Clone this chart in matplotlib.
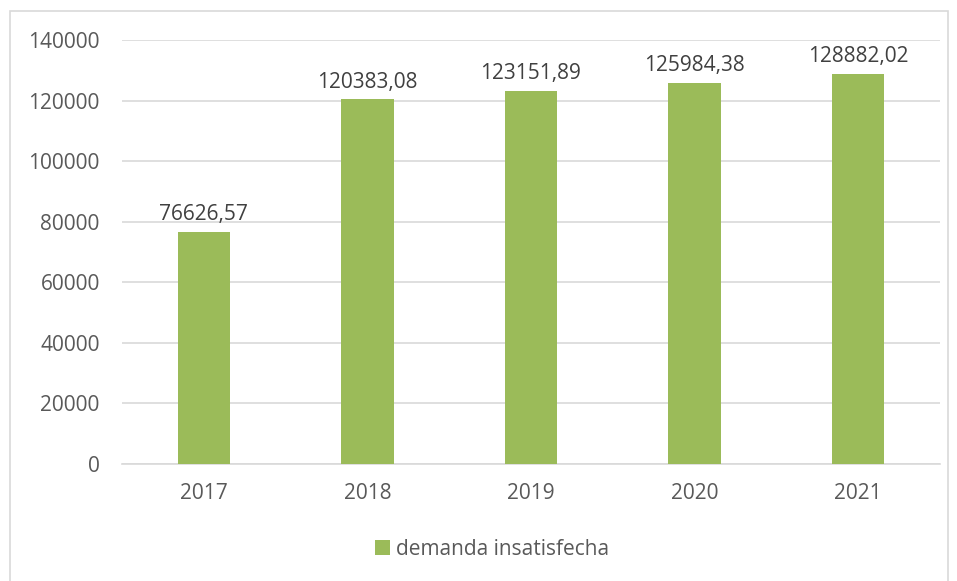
import matplotlib
matplotlib.use("Agg")
import matplotlib.pyplot as plt
from matplotlib.patches import Rectangle

years = ["2017", "2018", "2019", "2020", "2021"]
demanda = [76626.57, 120383.08, 123151.89, 125984.38, 128882.02]
labels = ["76626,57", "120383,08", "123151,89", "125984,38", "128882,02"]
yticks = [0, 20000, 40000, 60000, 80000, 100000, 120000, 140000]

plt.rcParams["font.family"] = ["Open Sans", "DejaVu Sans"]
text_color = "#595959"
grid_color = "#D9D9D9"
bar_color = "#9BBB59"
fs = 15

fig = plt.figure(figsize=(9.57, 5.81), dpi=100)
ax = fig.add_axes([0.1275, 0.2014, 0.8545, 0.7296])

x = range(len(years))
bars = ax.bar(x, demanda, width=0.32, color=bar_color, zorder=3,
              label="demanda insatisfecha")

for b, lab in zip(bars, labels):
    ax.annotate(lab, (b.get_x() + b.get_width() / 2, b.get_height()),
                xytext=(0, 5), textcoords="offset points",
                ha="center", va="bottom", fontsize=fs, color="#404040")

ax.set_xlim(-0.5, len(years) - 0.5)
ax.set_ylim(0, 140000)
ax.set_yticks(yticks)
ax.set_yticklabels([str(t) for t in yticks])
ax.set_xticks(list(x))
ax.set_xticklabels(years)
ax.tick_params(axis="both", length=0, labelsize=fs, labelcolor=text_color)
ax.tick_params(axis="y", pad=16)
ax.tick_params(axis="x", pad=14)
ax.grid(axis="y", color=grid_color, linewidth=1.2, zorder=0)
for s in ["top", "right", "left"]:
    ax.spines[s].set_visible(False)
ax.spines["bottom"].set_color(grid_color)
ax.spines["bottom"].set_linewidth(1.2)

leg = fig.legend(loc="center", bbox_to_anchor=(0.514, 0.055), frameon=False,
                 fontsize=fs, handlelength=0.7, handleheight=0.7,
                 handletextpad=0.3, labelcolor=text_color)

# outer chart frame
fig.patches.append(Rectangle((10 / 957, -0.01), 938 / 957, 1 - 11 / 581 + 0.01,
                             transform=fig.transFigure, fill=False,
                             edgecolor=grid_color, linewidth=1.2))

fig.savefig("out.png", dpi=100)
